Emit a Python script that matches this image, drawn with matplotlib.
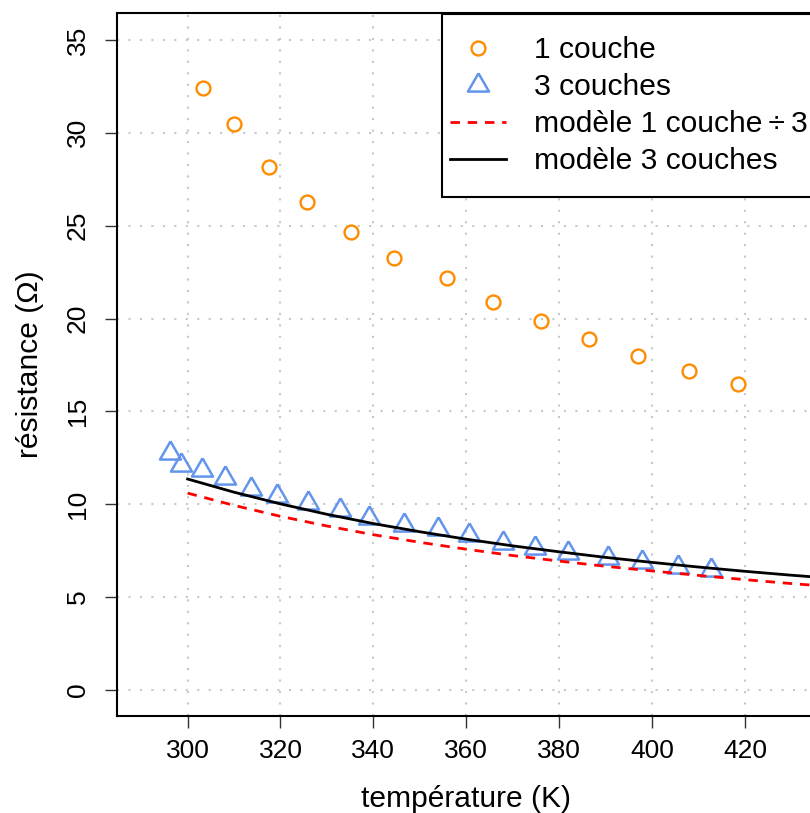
import numpy as np
import matplotlib.pyplot as plt
from matplotlib.lines import Line2D
from matplotlib.path import Path

plt.rcParams['font.family'] = ['Liberation Sans', 'DejaVu Sans']

# mesures
temp_1c = [303.4, 310.0, 317.5, 325.8, 335.1, 344.5, 355.8, 365.8, 376.1, 386.5, 396.9, 407.9, 418.4]
res_1c = [32.40, 30.46, 28.16, 26.30, 24.65, 23.26, 22.17, 20.89, 19.85, 18.88, 17.99, 17.20, 16.46]

temp_3c = [296.3, 298.5, 303.0, 308.1, 313.7, 319.3, 326.0, 332.8, 339.1, 346.5,
           353.9, 360.6, 368.0, 374.9, 382.0, 390.5, 397.8, 405.6, 412.6]
res_3c = [12.77, 12.14, 11.84, 11.39, 10.82, 10.44, 10.06, 9.68, 9.27, 8.88,
          8.66, 8.34, 7.94, 7.67, 7.40, 7.08, 6.90, 6.63, 6.45]

# modeles
temp_mod = [300, 310, 320, 330, 340, 350, 360, 370, 380, 390, 400, 410, 420, 430, 440]
mod_1c_div3 = [10.60, 9.94, 9.35, 8.83, 8.36, 7.95, 7.58, 7.24, 6.94, 6.66, 6.41, 6.17, 5.94, 5.73, 5.54]
mod_3c = [11.36, 10.65, 10.02, 9.46, 8.96, 8.52, 8.12, 7.76, 7.44, 7.14, 6.87, 6.62, 6.39, 6.18, 5.99]

xticks = [300, 320, 340, 360, 380, 400, 420]
yticks = [0, 5, 10, 15, 20, 25, 30, 35]

fig = plt.figure(figsize=(8.1, 8.13), dpi=100)
ax = fig.add_axes([117/810, 97/813, (816-117)/810, 703/813])

# triangle facon R (centre sur le centroide)
tri = [(0, 1), (-0.866, -0.5), (0.866, -0.5), (0, 1)]

ax.plot(temp_1c, res_1c, linestyle='none', marker='o', ms=10, mfc='none',
        mec='#FF8C00', mew=1.7)
ax.plot(temp_3c, res_3c, linestyle='none', marker=tri, ms=17.5, mfc='none',
        mec='#6495ED', mew=1.8)
ax.plot(temp_mod, mod_1c_div3, color='red', lw=2, dashes=(3.4, 2.8))
ax.plot(temp_mod, mod_3c, color='black', lw=2)

ax.set_xlim(284.8, 435.3)
ax.set_ylim(-1.4, 36.45)
ax.set_xticks(xticks)
ax.set_yticks(yticks)
ax.grid(color='#C8C8C8', linestyle=(0, (1, 4.5)), linewidth=1.5)
ax.set_axisbelow(True)

for s in ax.spines.values():
    s.set_linewidth(1.5)
ax.tick_params(axis='both', labelsize=19, length=8.6, width=1.0, color='#333333')
ax.tick_params(axis='x', pad=8)
ax.tick_params(axis='y', pad=11, labelrotation=90)
for lab in ax.get_yticklabels():
    lab.set_va('center')

ax.set_xlabel('température (K)', fontsize=21.6, labelpad=16)
ax.set_ylabel('résistance (Ω)', fontsize=21.6, labelpad=16)


# cadre de legende plus haut que large (comme R)
def tall_box(x0, y0, width, height, mutation_size):
    ext = 0.47 * mutation_size
    return Path([(x0, y0 - ext), (x0 + width, y0 - ext), (x0 + width, y0 + height + ext),
                 (x0, y0 + height + ext), (x0, y0 - ext)], closed=True)


handles = [
    Line2D([], [], linestyle='none', marker='o', ms=10, mfc='none', mec='#FF8C00', mew=1.7),
    Line2D([], [], linestyle='none', marker=tri, ms=17.5, mfc='none', mec='#6495ED', mew=1.8),
    Line2D([], [], color='red', lw=2, dashes=(3.4, 2.8)),
    Line2D([], [], color='black', lw=2),
]
labels = ['1 couche', '3 couches', 'modèle 1 couche\u2009÷\u20093', 'modèle 3 couches']
leg = ax.legend(handles, labels, loc='upper right', bbox_to_anchor=(1, 1 - 15/703),
                fontsize=21.6, fancybox=False, edgecolor='black', framealpha=1,
                borderaxespad=0, borderpad=0.27, handlelength=1.87,
                handletextpad=0.93, labelspacing=0.3)
leg.get_frame().set_linewidth(1.5)
leg.get_frame().set_boxstyle(tall_box)

fig.savefig('out.png', dpi=100)
